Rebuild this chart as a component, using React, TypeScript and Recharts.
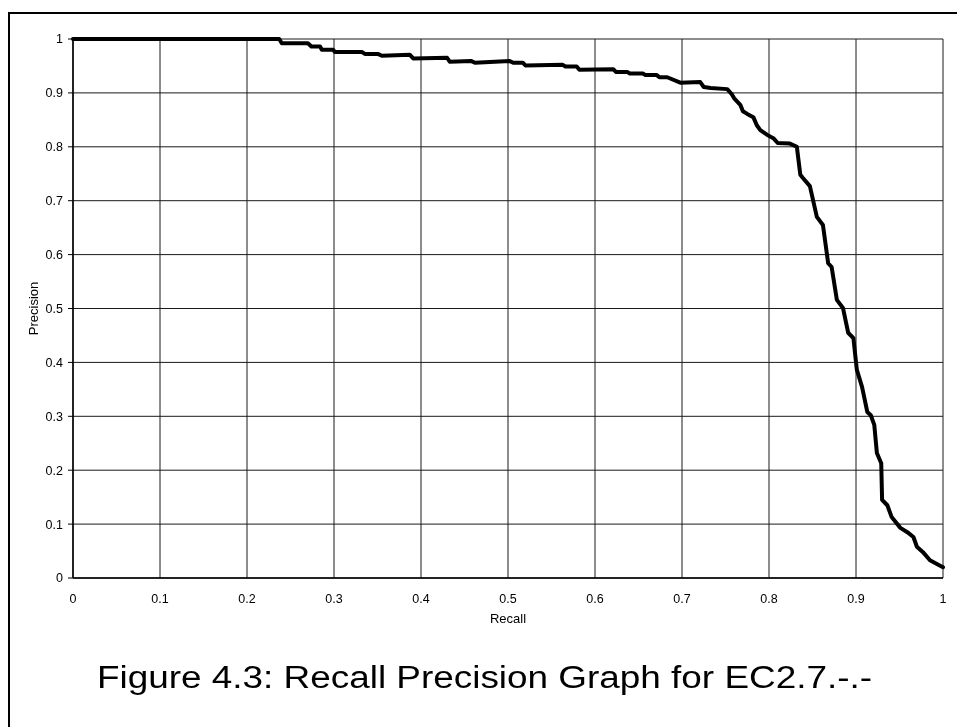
import React from 'react';
import { LineChart, Line, XAxis, YAxis, CartesianGrid } from 'recharts';

const recall = [
  0, 0.237, 0.24, 0.27, 0.274, 0.284, 0.286, 0.299, 0.301, 0.332, 0.336, 0.351, 0.355, 0.387, 0.391, 0.43,
  0.433, 0.458, 0.462, 0.502, 0.506, 0.517, 0.52, 0.563, 0.566, 0.579, 0.582, 0.621, 0.624, 0.637, 0.64,
  0.655, 0.658, 0.671, 0.674, 0.683, 0.698, 0.721, 0.725, 0.733, 0.752, 0.757, 0.76, 0.767, 0.77, 0.775,
  0.782, 0.786, 0.79, 0.798, 0.805, 0.81, 0.824, 0.832, 0.836, 0.839, 0.847, 0.855, 0.862, 0.868, 0.872,
  0.878, 0.885, 0.891, 0.897, 0.901, 0.907, 0.913, 0.917, 0.921, 0.924, 0.929, 0.93, 0.936, 0.941, 0.951,
  0.959, 0.966, 0.97, 0.977, 0.985, 0.993, 1.0,
];

const precision = [
  1.0, 1.0, 0.992, 0.992, 0.986, 0.986, 0.98, 0.98, 0.976, 0.976, 0.972, 0.972, 0.969, 0.971, 0.964, 0.965,
  0.958, 0.959, 0.956, 0.959, 0.956, 0.956, 0.951, 0.952, 0.949, 0.949, 0.943, 0.944, 0.939, 0.939, 0.936,
  0.936, 0.933, 0.933, 0.929, 0.929, 0.919, 0.92, 0.911, 0.909, 0.907, 0.898, 0.89, 0.878, 0.866, 0.861,
  0.855, 0.84, 0.831, 0.822, 0.816, 0.807, 0.806, 0.8, 0.748, 0.742, 0.727, 0.67, 0.655, 0.584, 0.577,
  0.516, 0.501, 0.455, 0.445, 0.386, 0.354, 0.308, 0.302, 0.284, 0.232, 0.213, 0.145, 0.135, 0.113, 0.093,
  0.085, 0.076, 0.058, 0.048, 0.033, 0.026, 0.02,
];

const xTicks = [0, 0.1, 0.2, 0.3, 0.4, 0.5, 0.6, 0.7, 0.8, 0.9, 1];
const yTicks = [0, 0.1, 0.2, 0.3, 0.4, 0.5, 0.6, 0.7, 0.8, 0.9, 1];
const xTitle = 'Recall';
const yTitle = 'Precision';
const figureCaption = 'Figure 4.3: Recall Precision Graph for EC2.7.-.-';

const data = recall.map((r, i) => ({ recall: r, precision: precision[i] }));

const FONT = '"Liberation Sans", Arial, Helvetica, sans-serif';

const XLabel = (props: any) => {
  const vb = props.viewBox || {};
  return (
    <text x={vb.x + vb.width / 2} y={vb.y + 45} textAnchor="middle" fontSize={13} fontFamily={FONT} fill="#000">
      {xTitle}
    </text>
  );
};

const YLabel = (props: any) => {
  const vb = props.viewBox || {};
  const cx = 25;
  const cy = vb.y + vb.height / 2;
  return (
    <text
      x={cx}
      y={cy}
      transform={`rotate(-90 ${cx} ${cy})`}
      textAnchor="middle"
      dominantBaseline="central"
      fontSize={13}
      fontFamily={FONT}
      fill="#000"
    >
      {yTitle}
    </text>
  );
};

export default function App() {
  return (
    <div style={{ position: 'relative', width: 941, height: 711, overflow: 'hidden' }}>
      <style>{`body{overflow:hidden}`}</style>
      <div
        style={{
          position: 'fixed',
          left: 8,
          top: 12,
          width: 2000,
          height: 2000,
          borderLeft: '2px solid #000',
          borderTop: '2px solid #000',
          pointerEvents: 'none',
        }}
      />
      <LineChart width={941} height={640} data={data} margin={{ top: 31, right: 6, bottom: 20, left: 0 }}>
        <CartesianGrid stroke="#1a1a1a" strokeWidth={1} />
        <XAxis
          type="number"
          dataKey="recall"
          domain={[0, 1]}
          ticks={xTicks}
          interval={0}
          tickLine={false}
          axisLine={{ stroke: '#000', strokeWidth: 1.5 }}
          tick={{ fill: '#000', fontSize: 12.5, fontFamily: FONT }}
          tickMargin={10}
          height={50}
          label={<XLabel />}
        />
        <YAxis
          type="number"
          domain={[0, 1]}
          ticks={yTicks}
          interval={0}
          width={65}
          tickSize={5}
          tickMargin={5}
          tickLine={{ stroke: '#000' }}
          axisLine={{ stroke: '#000', strokeWidth: 1.5 }}
          tick={{ fill: '#000', fontSize: 12.5, fontFamily: FONT }}
          label={<YLabel />}
        />
        <Line
          type="linear"
          dataKey="precision"
          stroke="#000"
          strokeWidth={4}
          strokeLinejoin="round"
          strokeLinecap="round"
          dot={false}
          activeDot={false}
          isAnimationActive={false}
        />
      </LineChart>
      <svg width={941} height={711} style={{ position: 'absolute', left: 0, top: 0, pointerEvents: 'none' }}>
        <text
          x={89}
          y={680}
          fontSize={31}
          fontFamily={FONT}
          fill="#000"
          textLength={775}
          lengthAdjust="spacingAndGlyphs"
        >
          {figureCaption}
        </text>
      </svg>
    </div>
  );
}
